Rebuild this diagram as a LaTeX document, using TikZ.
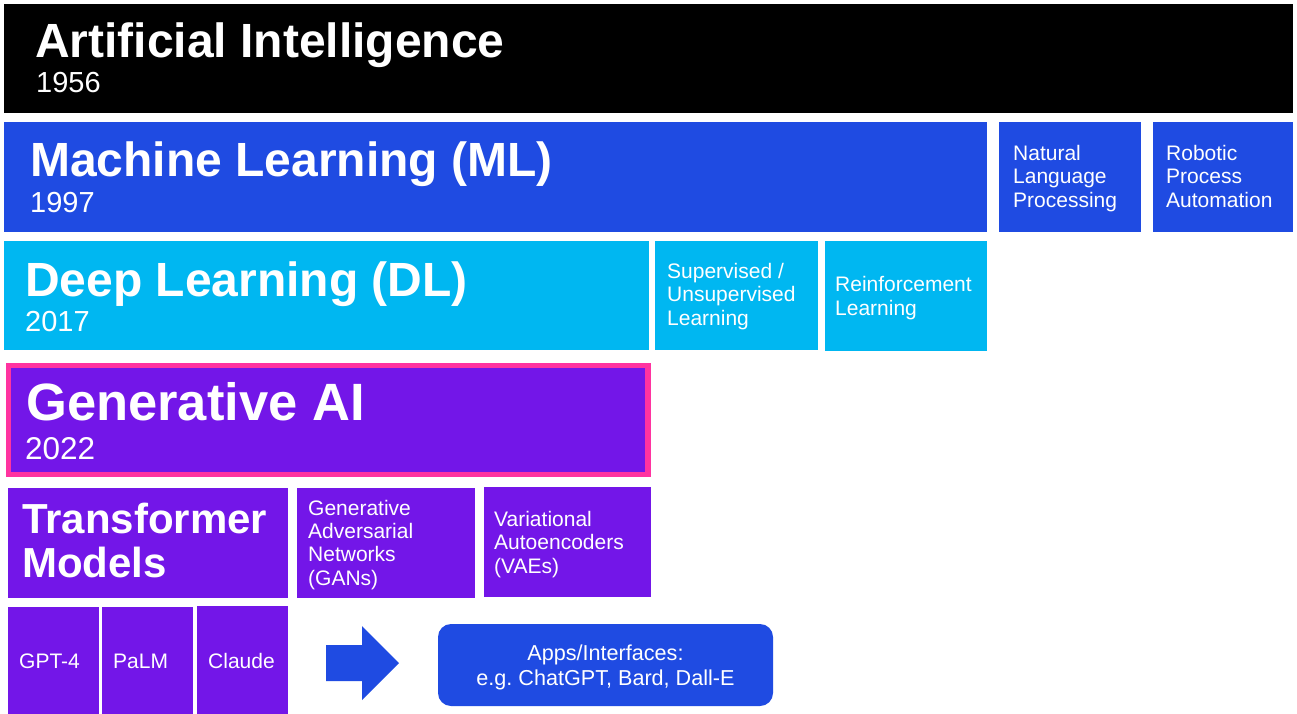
\documentclass[tikz,border=0pt]{standalone}
\usepackage{fontspec}
\setmainfont{Liberation Sans}
\usetikzlibrary{fit}
\definecolor{mlblue}{RGB}{31,75,226}
\definecolor{dlcyan}{RGB}{0,183,241}
\definecolor{gpurple}{RGB}{115,22,232}
\definecolor{gpink}{RGB}{255,51,160}
\frenchspacing
\begin{document}
\begin{tikzpicture}[x=1pt,y=-1pt,
  blk/.style={inner sep=0pt, outer sep=0pt},
  ttl/.style={anchor=base west, inner sep=0pt, text=white, font=\bfseries\fontsize{48}{52}\selectfont},
  yr/.style={anchor=base west, inner sep=0pt, text=white, font=\fontsize{29}{32}\selectfont},
  sm/.style={anchor=base west, inner sep=0pt, text=white, align=left, font=\fontsize{21}{23.3}\selectfont}]
\useasboundingbox[fill=white] (0,0) rectangle (1297,714);
% boxes
\node[blk, fill=black, fit={(4,4)(1293,113)}] (ai) {};
\node[blk, fill=mlblue, fit={(4,122)(987,232)}] (ml) {};
\node[blk, fill=mlblue, fit={(999,122)(1141,232)}] (nlp) {};
\node[blk, fill=mlblue, fit={(1153,122)(1293,232)}] (rpa) {};
\node[blk, fill=dlcyan, fit={(4,241)(649,350)}] (dl) {};
\node[blk, fill=dlcyan, fit={(655,241)(818,350)}] (sup) {};
\node[blk, fill=dlcyan, fit={(825,241)(987,351)}] (rl) {};
\node[blk, fill=gpurple, draw=gpink, line width=5.6pt, fit={(8.6,365.5)(648.2,474.5)}] (gen) {};
\node[blk, fill=gpurple, fit={(8,488)(288,598)}] (tm) {};
\node[blk, fill=gpurple, fit={(297,488)(475,598)}] (gan) {};
\node[blk, fill=gpurple, fit={(484,487)(651,597)}] (vae) {};
\node[blk, fill=gpurple, fit={(8,607)(99,714)}] (gpt) {};
\node[blk, fill=gpurple, fit={(102,607)(193,714)}] (palm) {};
\node[blk, fill=gpurple, fit={(197,606)(288,714)}] (claude) {};
\node[blk, fill=mlblue, rounded corners=13pt, fit={(438,624)(773,706)}] (apps) {};
% arrow shape
\fill[mlblue] (326,645) -- (362,645) -- (362,626) -- (399,663) -- (362,700) -- (362,681) -- (326,681) -- cycle;
% texts (multi-line nodes are anchored at the baseline of their last line)
\node[ttl] (ait) at (35,58) {Artificial Intelligence};
\node[yr] (aiy) at (36,93) {1956};
\node[ttl] (mlt) at (30,177) {Machine Learning (ML)};
\node[yr] (mly) at (30,212) {1997};
\node[ttl] (dlt) at (25,296) {Deep Learning (DL)};
\node[yr] (dly) at (25,331) {2017};
\node[ttl, font=\bfseries\fontsize{52.5}{56}\selectfont] (gent) at (26,420) {Generative AI};
\node[yr, font=\fontsize{31.5}{34}\selectfont] (geny) at (25,459) {2022};
\node[ttl, align=left, font=\bfseries\fontsize{42}{44}\selectfont] (tmt) at (22,577) {Transformer\\Models};
\node[sm] (nlpt) at (1013,207) {Natural\\Language\\Processing};
\node[sm] (rpat) at (1166,207) {Robotic\\Process\\Automation};
\node[sm] (supt) at (667,325) {Supervised /\\Unsupervised\\Learning};
\node[sm] (rlt) at (835,315) {Reinforcement\\Learning};
\node[sm] (gant) at (308,585) {Generative\\Adversarial\\Networks\\(GANs)};
\node[sm] (vaet) at (494,573) {Variational\\Autoencoders\\(VAEs)};
\node[sm] (gptt) at (19,668) {GPT-4};
\node[sm] (palmt) at (113,668) {PaLM};
\node[sm] (claudet) at (208,668) {Claude};
\node[sm, anchor=base, align=center, font=\fontsize{21.6}{25.5}\selectfont] (appst) at (605.5,685.5) {Apps/Interfaces:\\e.g. ChatGPT, Bard, Dall-E};
\end{tikzpicture}
\end{document}
